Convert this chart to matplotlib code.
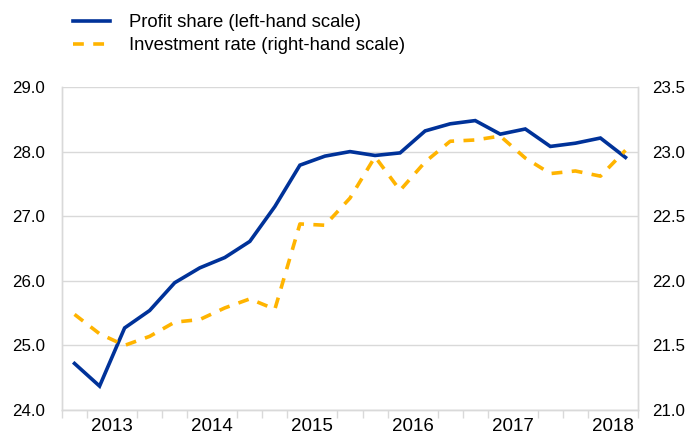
import matplotlib
matplotlib.use("Agg")
import matplotlib.pyplot as plt
import numpy as np

plt.rcParams['font.family'] = ['Liberation Sans', 'DejaVu Sans']

quarters = ["2013Q1", "2013Q2", "2013Q3", "2013Q4", "2014Q1", "2014Q2", "2014Q3", "2014Q4",
            "2015Q1", "2015Q2", "2015Q3", "2015Q4", "2016Q1", "2016Q2", "2016Q3", "2016Q4",
            "2017Q1", "2017Q2", "2017Q3", "2017Q4", "2018Q1", "2018Q2", "2018Q3"]
profit_share = [24.72, 24.37, 25.27, 25.54, 25.97, 26.20, 26.36, 26.61, 27.15, 27.79, 27.93, 28.00,
                27.94, 27.98, 28.32, 28.43, 28.48, 28.27, 28.35, 28.08, 28.13, 28.21, 27.91]
investment_rate = [21.74, 21.59, 21.50, 21.57, 21.68, 21.70, 21.79, 21.86, 21.78, 22.44, 22.43, 22.64,
                   22.96, 22.70, 22.92, 23.08, 23.09, 23.12, 22.95, 22.83, 22.85, 22.81, 23.01]
year_labels = ["2013", "2014", "2015", "2016", "2017", "2018"]
left_ticks = [24.0, 25.0, 26.0, 27.0, 28.0, 29.0]
right_ticks = [21.0, 21.5, 22.0, 22.5, 23.0, 23.5]

BLUE = "#003299"
YELLOW = "#FFB400"
GRID = "#d9d9d9"

fig = plt.figure(figsize=(6.97, 4.34), dpi=100)
ax = fig.add_axes([62/697, 1 - 410/434, (638-62)/697, (410-87)/434])
ax2 = ax.twinx()

x = np.arange(len(quarters))
l1, = ax.plot(x, profit_share, color=BLUE, lw=2.6, solid_joinstyle='miter', zorder=3,
              label="Profit share (left-hand scale)")
l2, = ax2.plot(x, investment_rate, color=YELLOW, lw=2.6, dash_capstyle='butt', zorder=3,
               label="Investment rate (right-hand scale)")
l2.set_dashes([3.0, 2.6])

ax.set_xlim(-0.5, len(quarters) - 0.5)
ax.set_ylim(24, 29)
ax2.set_ylim(21, 23.5)

ax.set_yticks(left_ticks)
ax.set_yticklabels([f"{v:.1f}" for v in left_ticks])
ax2.set_yticks(right_ticks)
ax2.set_yticklabels([f"{v:.1f}" for v in right_ticks])

ax.yaxis.grid(True, color=GRID, lw=1)
ax.set_axisbelow(True)

# x ticks: boundaries as minor ticks, year labels at year centres
ax.set_xticks(np.arange(-0.5, len(quarters) + 0.5, 1.0), minor=True)
year_pos = [1.5 + 4 * i for i in range(len(year_labels))]
ax.set_xticks(year_pos)
ax.set_xticklabels(year_labels)
ax.tick_params(axis='x', which='major', length=0, labelsize=13.5, pad=6)
ax.tick_params(axis='x', which='minor', length=6, color=GRID, width=1)
ax.tick_params(axis='y', length=0, labelsize=12.2, pad=12)
ax2.tick_params(axis='y', length=0, labelsize=12.2, pad=10)

for a in (ax, ax2):
    for s in a.spines.values():
        s.set_color(GRID)
        s.set_linewidth(1)
    a.spines['top'].set_visible(False)

leg = fig.legend(handles=[l1, l2], loc='upper left', bbox_to_anchor=(73/697, 1 - 14/434),
                 frameon=False, fontsize=13.3, handlelength=2.0, handletextpad=1.05,
                 labelspacing=0.33, borderpad=0, borderaxespad=0)

fig.savefig("out.png", dpi=100)
